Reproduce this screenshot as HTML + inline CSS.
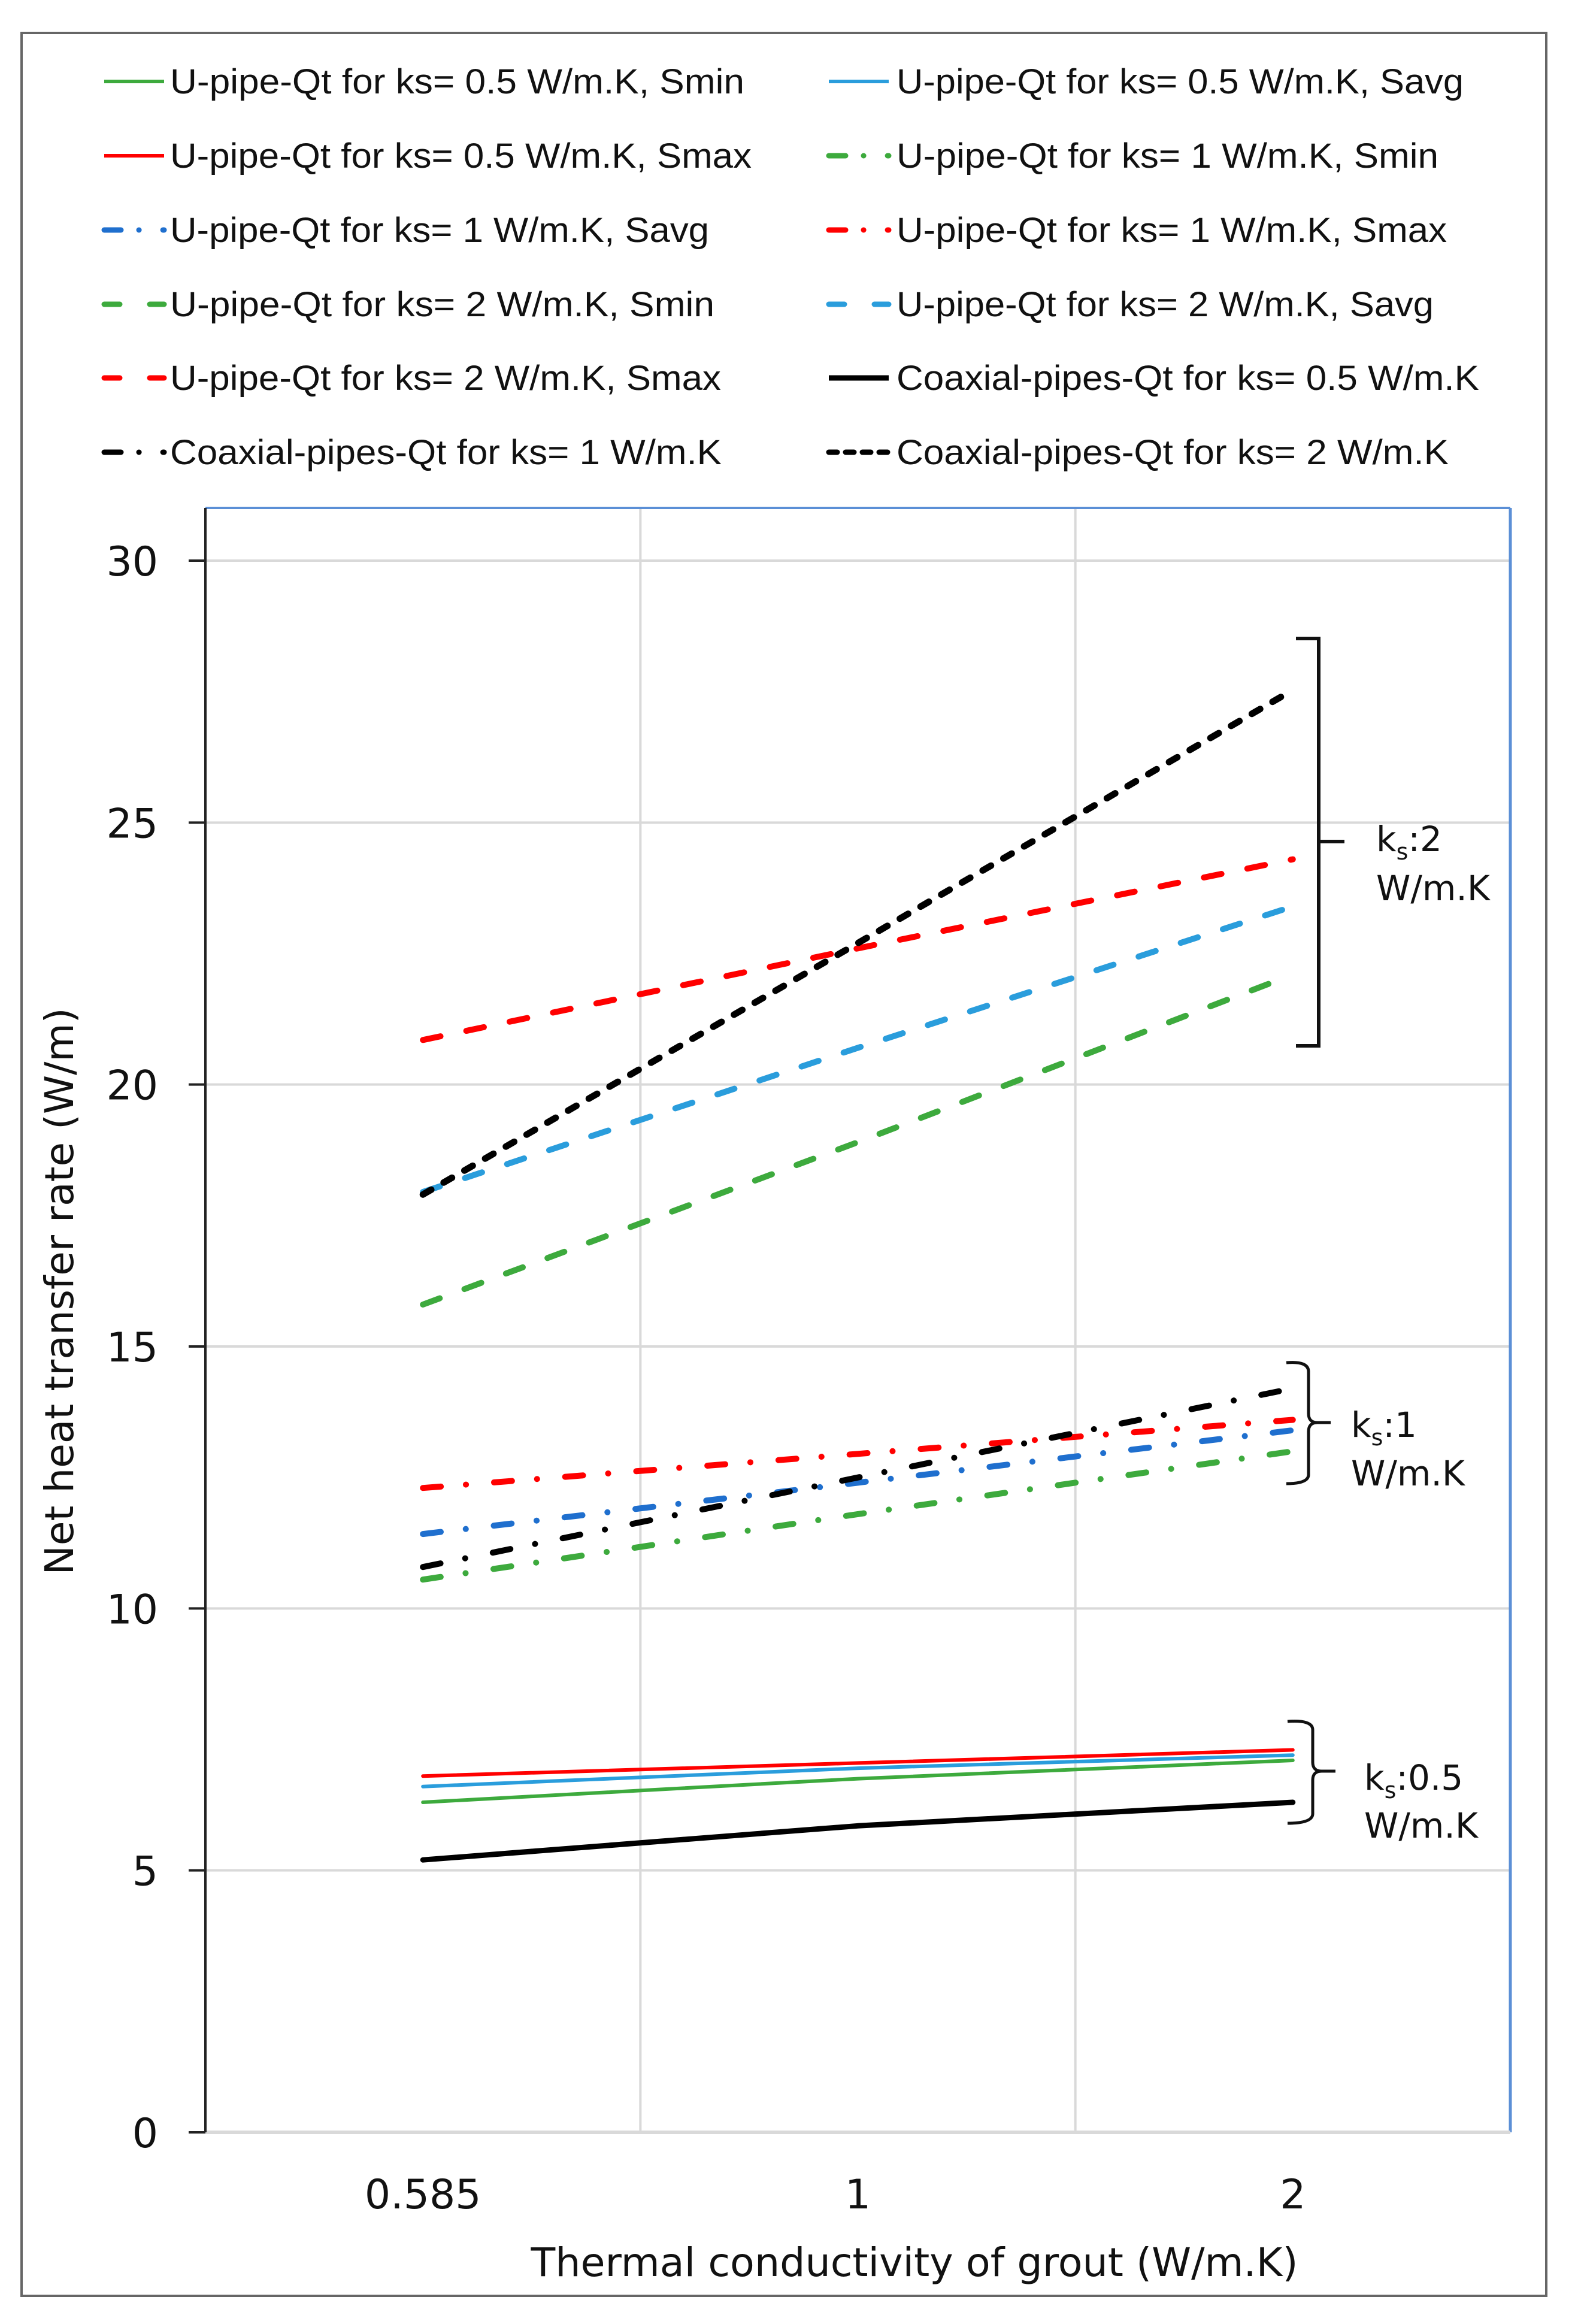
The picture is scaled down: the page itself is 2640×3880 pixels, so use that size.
<!DOCTYPE html>
<html><head><meta charset="utf-8"><style>
html,body{margin:0;padding:0;background:#fff;}
svg{display:block;}
</style></head><body>
<svg id="chart" width="2640" height="3880" viewBox="0 0 2640 3880" xmlns="http://www.w3.org/2000/svg">
<rect x="36" y="55" width="2546" height="3778" fill="#fff" stroke="#666" stroke-width="4"/>
<g id="grid"></g>
<g id="axes"></g>
<g id="series"></g>
<g id="legend"></g>
<g id="annot" font-family="'DejaVu Sans', sans-serif" font-size="58" fill="#111">
  <path d="M2164,1066 H2202 V1746 H2164 M2202,1405 H2245" fill="none" stroke="#111" stroke-width="6"/>
  <text x="2298" y="1421">k<tspan font-size="38" dy="14">s</tspan><tspan dy="-14">:2</tspan></text>
  <text x="2298" y="1503">W/m.K</text>
  <path d="M2148,2275 Q2185,2272 2185,2290 V2360 Q2185,2375 2200,2375 H2222 M2200,2375 Q2185,2375 2185,2390 V2462 Q2185,2477 2148,2477" fill="none" stroke="#111" stroke-width="5"/>
  <text x="2256" y="2399">k<tspan font-size="38" dy="14">s</tspan><tspan dy="-14">:1</tspan></text>
  <text x="2256" y="2480">W/m.K</text>
  <path d="M2150,2874 Q2192,2871 2192,2888 V2942 Q2192,2957 2207,2957 H2230 M2207,2957 Q2192,2957 2192,2972 V3028 Q2192,3044 2150,3044" fill="none" stroke="#111" stroke-width="5"/>
  <text x="2278" y="2988">k<tspan font-size="38" dy="14">s</tspan><tspan dy="-14">:0.5</tspan></text>
  <text x="2278" y="3068">W/m.K</text>
</g>
</svg>
<script>
const categories = ["0.585", "1", "2"];
const yTicks = [0, 5, 10, 15, 20, 25, 30];
const seriesNames = [
 "U-pipe-Qt  for ks= 0.5 W/m.K, Smin","U-pipe-Qt  for ks= 0.5 W/m.K, Savg",
 "U-pipe-Qt  for ks= 0.5 W/m.K, Smax","U-pipe-Qt  for ks= 1 W/m.K, Smin",
 "U-pipe-Qt  for ks= 1 W/m.K, Savg","U-pipe-Qt  for ks= 1 W/m.K, Smax",
 "U-pipe-Qt  for ks= 2 W/m.K, Smin","U-pipe-Qt  for ks= 2 W/m.K, Savg",
 "U-pipe-Qt  for ks= 2 W/m.K, Smax","Coaxial-pipes-Qt  for ks= 0.5 W/m.K",
 "Coaxial-pipes-Qt  for ks= 1 W/m.K","Coaxial-pipes-Qt  for ks= 2 W/m.K"];
const ks05Smin = [6.3, 6.75, 7.1];
const ks05Savg = [6.6, 6.95, 7.2];
const ks05Smax = [6.8, 7.05, 7.3];
const ks1Smin = [10.55, 11.8, 13.0];
const ks1Savg = [11.42, 12.4, 13.4];
const ks1Smax = [12.3, 12.95, 13.6];
const ks2Smin = [15.8, 18.9, 22.1];
const ks2Savg = [17.95, 20.7, 23.4];
const ks2Smax = [20.85, 22.6, 24.3];
const coax05 = [5.2, 5.85, 6.3];
const coax1 = [10.79, 12.5, 14.2];
const coax2 = [17.9, 22.7, 27.53];

const NS = "http://www.w3.org/2000/svg";
const L = 343, R = 2522, T = 848, B = 3560;
const yMax = 30, y30 = 936;
function yS(v){ return B - (B - y30) * v / yMax; }
const band = (R - L) / categories.length;
function xS(i){ return L + band * (i + 0.5); }
function mk(tag, attrs, parent){ const e = document.createElementNS(NS, tag); for (const k in attrs) e.setAttribute(k, attrs[k]); parent.appendChild(e); return e; }

const grid = document.getElementById('grid');
yTicks.forEach(t => {
  if (t === 0) return;
  const g = mk('line', {x1:L, x2:R, y1:yS(t), y2:yS(t), stroke:'#d9d9d9', 'stroke-width':4}, grid);
  
  
});
for (let i = 1; i < categories.length; i++) {
  const g = mk('line', {x1:L + band*i, x2:L + band*i, y1:T, y2:B, stroke:'#d9d9d9', 'stroke-width':4}, grid);
  
  
}
const axes = document.getElementById('axes');
let e;
e = mk('line', {x1:L, x2:R, y1:T, y2:T, stroke:'#5b8fd6', 'stroke-width':4}, axes);
 
e = mk('line', {x1:R, x2:R, y1:T, y2:B, stroke:'#5b8fd6', 'stroke-width':5}, axes);
 
e = mk('line', {x1:L, x2:R, y1:B, y2:B, stroke:'#d9d9d9', 'stroke-width':6}, axes);
 
e = mk('line', {x1:L, x2:L, y1:T, y2:B, stroke:'#222', 'stroke-width':4}, axes);
 
yTicks.forEach(t => {
  const tk = mk('line', {x1:315, x2:L, y1:yS(t), y2:yS(t), stroke:'#222', 'stroke-width':4}, axes);
   
  const tx = mk('text', {x:264, y:yS(t)+25, 'text-anchor':'end', 'font-family':"'DejaVu Sans', sans-serif", 'font-size':68, fill:'#111'}, axes);
  tx.textContent = t;
   
});
categories.forEach((c, i) => {
  const tx = mk('text', {x:xS(i), y:3687, 'text-anchor':'middle', 'font-family':"'DejaVu Sans', sans-serif", 'font-size':68, fill:'#111'}, axes);
  tx.textContent = c;
   
});
e = mk('text', {x:1527, y:3800, 'text-anchor':'middle', 'font-family':"'DejaVu Sans', sans-serif", 'font-size':66, fill:'#111', textLength:1281, lengthAdjust:'spacingAndGlyphs'}, axes);
e.textContent = 'Thermal conductivity of grout (W/m.K)';
 
e = mk('text', {x:0, y:0, 'text-anchor':'middle', 'font-family':"'DejaVu Sans', sans-serif", 'font-size':66, fill:'#111', textLength:947, lengthAdjust:'spacingAndGlyphs', transform:'translate(122,2156) rotate(-90)'}, axes);
e.textContent = 'Net heat transfer rate (W/m)';
 

const GREEN = '#3daa3d', BLUE = '#2a9ddc', BLUE2 = '#1f6fce', RED = '#ff0000', BLACK = '#000';
const DD = '30 42 0.1 47', DA = '30 44', DS = '16 24';
const styles = [
 {c:GREEN, w:6, d:null}, {c:BLUE, w:6, d:null}, {c:RED, w:6, d:null},
 {c:GREEN, w:10, d:DD}, {c:BLUE2, w:10, d:DD}, {c:RED, w:10, d:DD},
 {c:GREEN, w:10, d:DA}, {c:BLUE, w:10, d:DA}, {c:RED, w:10, d:DA},
 {c:BLACK, w:9, d:null}, {c:BLACK, w:10, d:DD}, {c:BLACK, w:11, d:DS}];
const seriesData = [ks05Smin, ks05Savg, ks05Smax, ks1Smin, ks1Savg, ks1Smax, ks2Smin, ks2Savg, ks2Smax, coax05, coax1, coax2];
const seriesKeys = ['ks05-smin','ks05-savg','ks05-smax','ks1-smin','ks1-savg','ks1-smax','ks2-smin','ks2-savg','ks2-smax','coax-ks05','coax-ks1','coax-ks2'];
const sg = document.getElementById('series');
seriesData.forEach((arr, si) => {
  const st = styles[si];
  const pts = arr.map((v, i) => xS(i).toFixed(1) + ',' + yS(v).toFixed(1)).join(' ');
  const a = {points:pts, fill:'none', stroke:st.c, 'stroke-width':st.w, 'stroke-linejoin':'round', 'stroke-linecap':'round'};
  if (st.d) a['stroke-dasharray'] = st.d;
  const pl = mk('polyline', a, sg);
  
  
});

const lg = document.getElementById('legend');
const rowsY = [136, 260, 384, 508, 631, 755];
const widths = [959, 947, 971, 905, 900, 919, 909, 897, 920, 973, 921, 922];
seriesNames.forEach((n, i) => {
  const col = i % 2, row = Math.floor(i / 2);
  const sx = col ? 1384 : 174, tx = col ? 1497 : 284, y = rowsY[row];
  const st = styles[i];
  const a = {x1:sx, x2:sx+100, y1:y, y2:y, stroke:st.c, 'stroke-width':Math.min(st.w, 9)};
  if (st.d) { a['stroke-dasharray'] = st.d === DS ? '14 14' : (st.d === DD ? '28 30 0.1 40' : '26 50'); a['stroke-linecap'] = 'round'; }
  const sw = mk('line', a, lg);
  
  
  const t = mk('text', {x:tx, y:y+20, 'font-family':"'Liberation Sans', sans-serif", 'font-size':58, fill:'#111', textLength:widths[i], lengthAdjust:'spacingAndGlyphs'}, lg);
  t.textContent = n;
  
  
});
</script>
</body></html>
